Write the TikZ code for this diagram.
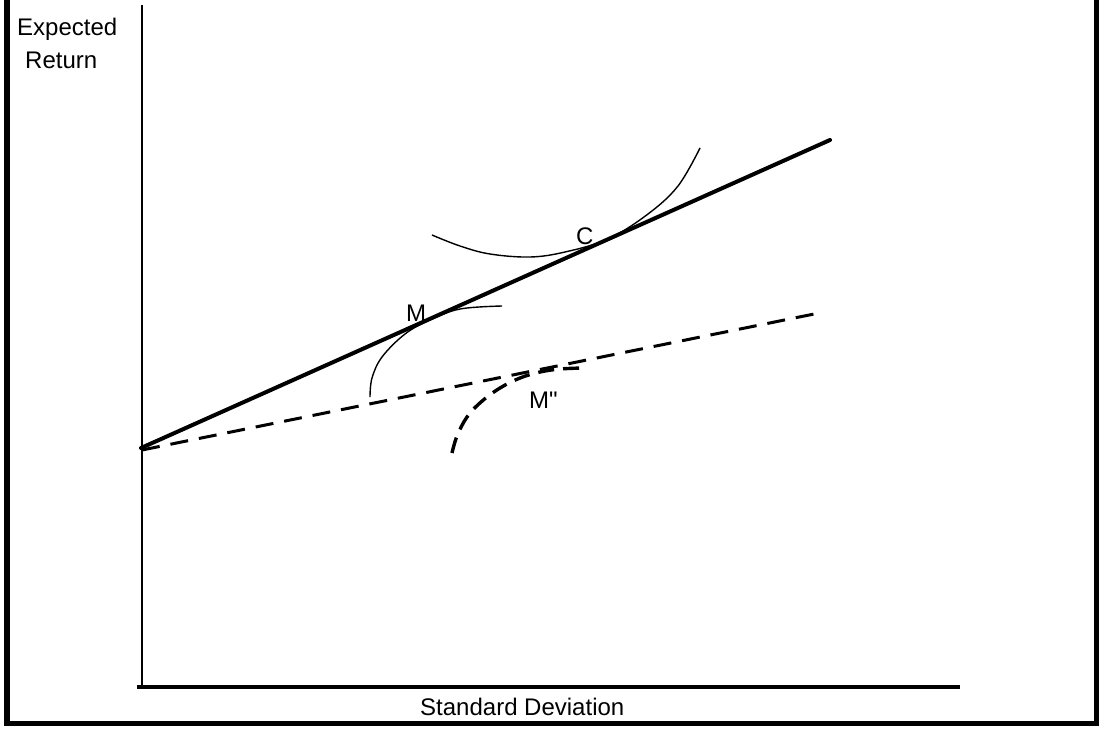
\documentclass[tikz,border=0pt]{standalone}
\usepackage{fontspec}
\setmainfont{Liberation Sans}
\newfontfamily\plainsans{Liberation Sans}
\begin{document}
\begin{tikzpicture}[x=1pt,y=-1pt,
  lbl/.style={anchor=base west,inner sep=0pt,font=\plainsans\fontsize{24}{29}\selectfont},
  frameline/.style={line width=5.5pt,line join=miter},
  axisline/.style={line width=2.2pt},
  cml/.style={line width=4pt,line cap=round},
  dashline/.style={line width=3pt,dash pattern=on 18pt off 11pt},
  icurve/.style={line width=1.4pt},
  dcurve/.style={line width=3.4pt,dash pattern=on 16pt off 9pt}]
\useasboundingbox (0,0) rectangle (1099,728);
% frame (left, bottom, right)
\coordinate (fTL) at (7,-5);
\coordinate (fBL) at (7,723.5);
\coordinate (fBR) at (1096.5,723.5);
\coordinate (fTR) at (1096.5,-5);
\draw[frameline] (fTL) -- (fBL) -- (fBR) -- (fTR);
% axes
\coordinate (yTop) at (142,5);
\coordinate (O) at (142,687);
\coordinate (xLeft) at (137,687);
\coordinate (xRight) at (960,687);
\draw[axisline] (yTop) -- (O);
\draw[line width=3.5pt] (xLeft) -- (xRight);
% lines
\coordinate (rf) at (141,448);
\coordinate (cmlEnd) at (830,140);
\coordinate (rf2) at (142,450);
\coordinate (dEnd) at (824,312);
\draw[cml] (rf) -- (cmlEnd);
\draw[dashline] (rf2) -- (dEnd);
% indifference curve at C
\draw[icurve] plot[smooth,tension=0.6] coordinates {(432,235) (460,246) (490,254) (530,257) (565,252) (608,239) (648,214) (678,186) (700,148)};
% curve at M
\draw[icurve] plot[smooth,tension=0.6] coordinates {(370,397) (372,378) (382,357) (405,334) (430,320) (460,309) (502,306)};
% dashed curve M''
\draw[dcurve] plot[smooth,tension=0.6] coordinates {(452,453) (457,436) (467,417) (481,402) (500,388) (520,378) (540,372) (560,369) (583,368)};
% labels
\node[lbl] (ylab1) at (17,35) {Expected};
\node[lbl] (ylab2) at (25,68) {Return};
\node[lbl] (xlab) at (420,715) {Standard Deviation};
\node[lbl] (Mlab) at (406,321) {M};
\node[lbl] (Clab) at (576,244) {C};
\node[lbl] (M2lab) at (529,408) {M"};
\end{tikzpicture}
\end{document}
